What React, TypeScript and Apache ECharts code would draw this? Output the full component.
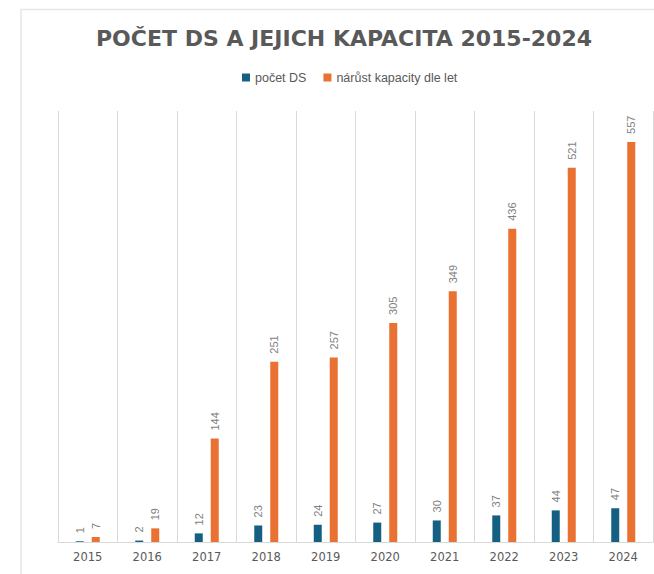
import React, { useEffect, useRef } from "react";
import * as echarts from "echarts";

const years = ["2015", "2016", "2017", "2018", "2019", "2020", "2021", "2022", "2023", "2024"];
const pocetDS = [1, 2, 12, 23, 24, 27, 30, 37, 44, 47];
const narustKapacity = [7, 19, 144, 251, 257, 305, 349, 436, 521, 557];
const seriesNames = ["počet DS", "nárůst kapacity dle let"];
const titleText = "POČET DS A JEJICH KAPACITA 2015-2024";

export default function App() {
  const ref = useRef<HTMLDivElement>(null);
  useEffect(() => {
    if (!ref.current) return;
    const chart = echarts.init(ref.current, undefined, { renderer: "svg" });
    const label = {
      show: true,
      position: "top",
      rotate: 90,
      align: "left",
      verticalAlign: "middle",
      distance: 8,
      color: "#7f7f7f",
      fontSize: 11,
      fontFamily: "Liberation Sans, Arial, sans-serif",
    };
    chart.setOption({
      animation: false,
      backgroundColor: "#ffffff",
      title: {
        text: titleText,
        left: 339,
        textAlign: "center",
        top: 22,
        textStyle: {
          color: "#595959",
          fontSize: 22,
          fontWeight: "bold",
          fontFamily: "DejaVu Sans, sans-serif",
        },
      },
      legend: {
        data: seriesNames,
        top: 66,
        left: 237,
        itemWidth: 8,
        itemHeight: 8,
        itemGap: 17,
        icon: "rect",
        textStyle: { color: "#595959", fontSize: 12.5, fontFamily: "Liberation Sans, Arial, sans-serif" },
      },
      graphic: [
        { type: "line", shape: { x1: 21, y1: 9.5, x2: 660, y2: 9.5 }, style: { stroke: "#e6e6e6", lineWidth: 1.5 } },
        { type: "line", shape: { x1: 21, y1: 9, x2: 21, y2: 580 }, style: { stroke: "#e6e6e6", lineWidth: 1.5 } },
      ],
      grid: { left: 58, right: 1, top: 111, bottom: 32 },
      xAxis: {
        type: "category",
        data: years,
        axisTick: { show: false },
        axisLine: { lineStyle: { color: "#d9d9d9", width: 1 } },
        splitLine: { show: true, interval: 0, lineStyle: { color: "#d9d9d9", width: 1 } },
        axisLabel: {
          color: "#595959",
          fontSize: 11.5,
          margin: 9,
          fontFamily: "DejaVu Sans, sans-serif",
        },
      },
      yAxis: {
        type: "value",
        min: 0,
        max: 600,
        show: false,
        splitLine: { show: false },
      },
      series: [
        {
          name: seriesNames[0],
          type: "bar",
          data: pocetDS,
          barWidth: 8,
          barGap: "100%",
          itemStyle: { color: "#156082" },
          label,
        },
        {
          name: seriesNames[1],
          type: "bar",
          data: narustKapacity,
          barWidth: 8,
          itemStyle: { color: "#E97132" },
          label,
        },
      ],
    });
    return () => chart.dispose();
  }, []);
  return <div ref={ref} style={{ width: 654, height: 574, position: "absolute", left: 0, top: 0 }} />;
}
